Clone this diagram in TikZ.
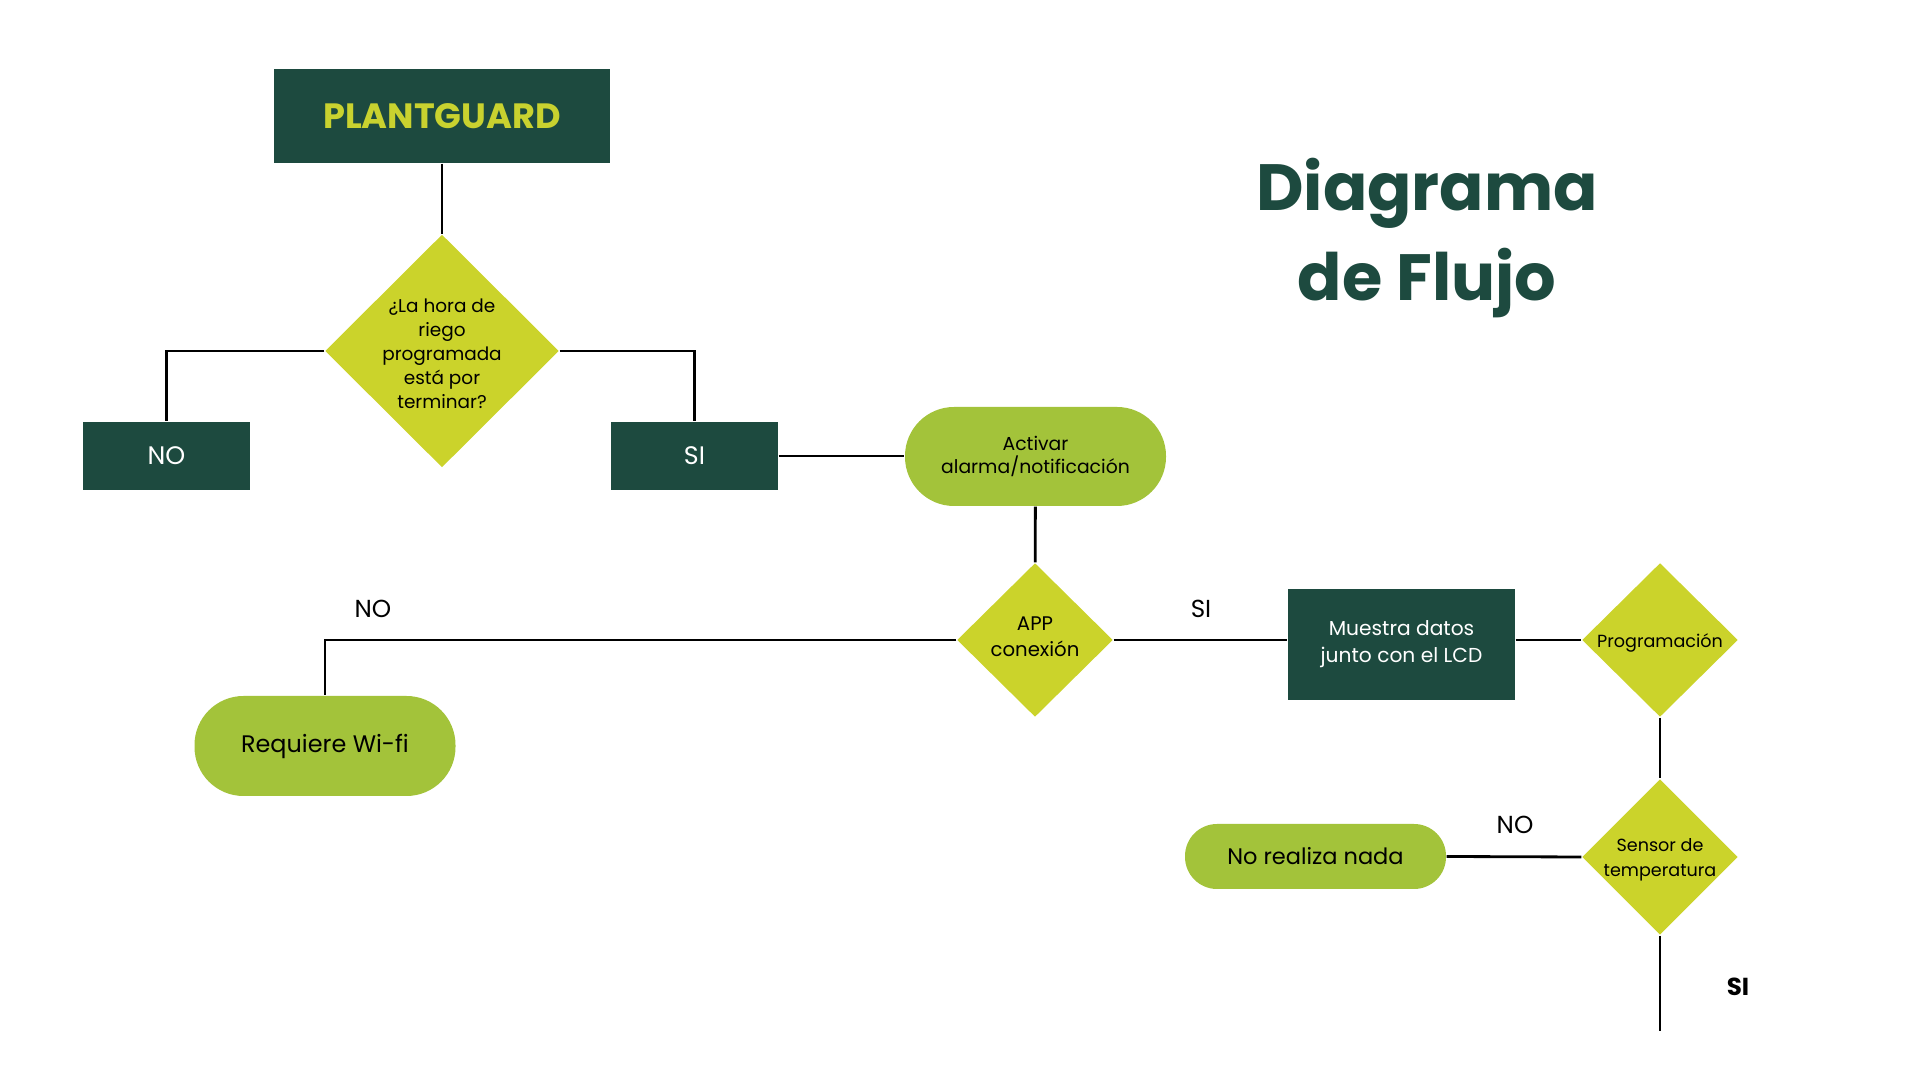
\documentclass[tikz,border=0pt]{standalone}
\usepackage{fontspec}
\setmainfont{Poppins}
\usepackage{tikz}
\usetikzlibrary{positioning,calc,shapes.geometric}
\definecolor{Pine}{HTML}{1D4A3F}
\definecolor{Lime}{HTML}{CBD32B}
\definecolor{Leaf}{HTML}{A3C33A}
\definecolor{Citron}{HTML}{C9D22F}

\begin{document}
\begin{tikzpicture}[
  darkbox/.style={rectangle,fill=Pine,text=white,inner sep=0pt,align=center,font=\fontsize{7.2}{8.4}\selectfont},
  decision/.style={diamond,fill=Lime,inner sep=0pt,aspect=1},
  dtext/.style={align=center,inner sep=0pt,font=\fontsize{5.25}{6.8}\selectfont},
  pill/.style={rectangle,fill=Leaf,inner sep=0pt,align=center},
  link/.style={line width=0.8pt,black},
  tag/.style={font=\fontsize{7}{8}\selectfont,inner sep=0pt}]
\useasboundingbox (0,0) rectangle (19.2,10.8);
\node[darkbox,minimum width=3.36cm,minimum height=0.94cm,text=Citron,
 font=\fontsize{10}{12}\selectfont\bfseries] (plant) at (4.42,9.64) {PLANTGUARD};
\node[decision,minimum width=2.34cm,minimum height=2.33cm] (riego) at (4.42,7.29) {};
\node[dtext] (riegot) at ($(riego)+(0,-0.03)$) {¿La hora de\\riego\\programada\\está por\\terminar?};
\node[darkbox,minimum width=1.67cm,minimum height=0.68cm] (no1) at (1.665,6.24) {NO};
\node[darkbox,minimum width=1.67cm,minimum height=0.68cm] (si1) at (6.945,6.24) {SI};
\node[pill,minimum width=2.61cm,minimum height=0.99cm,rounded corners=0.49cm,
 font=\fontsize{5.35}{6.7}\selectfont] (alarma) at (10.355,6.235) {Activar\\alarma/notificación};
\node[decision,minimum width=1.56cm,minimum height=1.54cm] (app) at (10.35,4.40) {};
\node[dtext,font=\fontsize{5.6}{7.3}\selectfont] (appt) at ($(app)+(0,0.035)$) {APP\\conexión};
\node[pill,minimum width=2.61cm,minimum height=1.0cm,rounded corners=0.49cm,
 font=\fontsize{6.8}{8}\selectfont] (wifi) at (3.25,3.34) {Requiere Wi-fi};
\node[darkbox,minimum width=2.27cm,minimum height=1.11cm,
 font=\fontsize{5.75}{7.6}\selectfont] (lcd) at (14.015,4.355) {Muestra datos\\junto con el LCD};
\node[decision,minimum width=1.56cm,minimum height=1.54cm] (prog) at (16.6,4.40) {};
\node[dtext,font=\fontsize{5}{6.6}\selectfont] (progt) at ($(prog)+(0,-0.03)$) {Programación};
\node[decision,minimum width=1.56cm,minimum height=1.56cm] (sensor) at (16.6,2.23) {};
\node[dtext,font=\fontsize{5}{7}\selectfont] (sensort) at ($(sensor)+(0,-0.03)$) {Sensor de\\temperatura};
\node[pill,minimum width=2.61cm,minimum height=0.65cm,rounded corners=0.32cm,
 font=\fontsize{6.4}{8}\selectfont] (nada) at (13.155,2.235) {No realiza nada};
\coordinate (fin) at (16.6,0.49);
% connectors
\draw[link] (plant) -- (riego);
\draw[link] (riego.west) -| (no1.north);
\draw[link] (riego.east) -| (si1.north);
\draw[link] (si1.east) -- (alarma.west |- si1.east);
\draw[link] (alarma) -- (app);
\draw[link] (app.west) -| (wifi.north);
\draw[link] (app.east) -- (app.east -| lcd.west);
\draw[link] (lcd.east |- prog.west) -- (prog.west);
\draw[link] (prog) -- (sensor);
\draw[link] (sensor.west) -- (nada.east);
\draw[link] (sensor.south) -- (fin);
% labels
\node[tag] (lno) at (3.73,4.71) {NO};
\node[tag] (lsi) at (12.01,4.71) {SI};
\node[tag] (lno2) at (15.15,2.55) {NO};
\node[tag,font=\fontsize{7}{8}\selectfont\bfseries] (lsi2) at (17.38,0.93) {SI};
\node[align=center,text=Pine,inner sep=0pt,font=\fontsize{18.6}{25.4}\selectfont\bfseries]
 (titulo) at (14.27,8.42) {Diagrama\\de Flujo};
\end{tikzpicture}
\end{document}
